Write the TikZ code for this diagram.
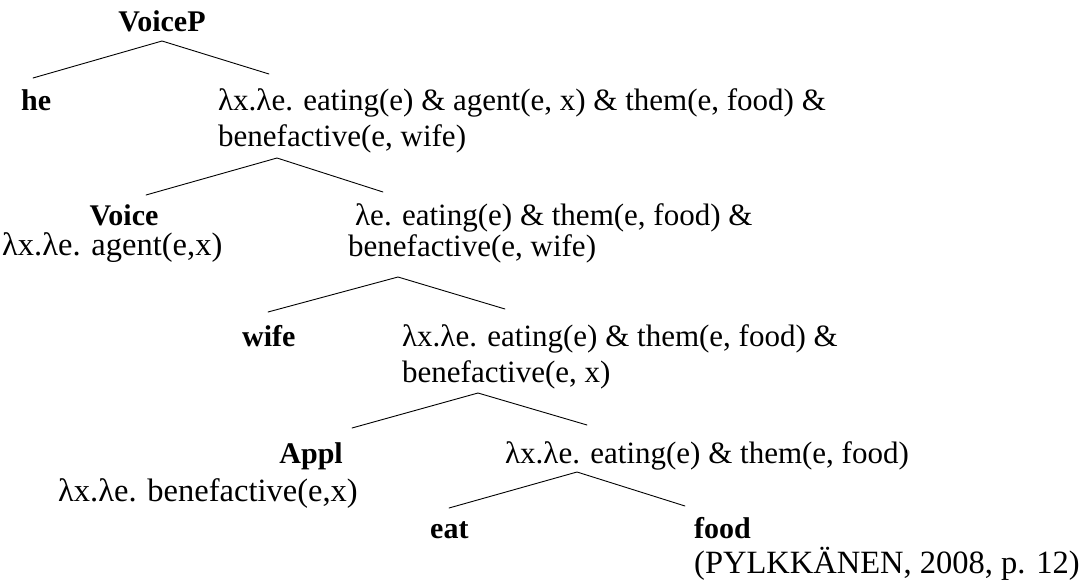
\documentclass[tikz,border=0pt]{standalone}
\usepackage{fontspec}
\setmainfont{Liberation Serif}
\begin{document}
\begin{tikzpicture}[x=1pt,y=-1pt,
  % multi-line nodes are anchored at the baseline of their last line
  txt/.style={inner sep=0pt, anchor=base west, align=left, font=\fontsize{31}{36}\selectfont},
  bigtxt/.style={txt, font=\fontsize{32.5}{36}\selectfont},
  lbl/.style={inner sep=0pt, anchor=base west, font=\fontsize{30}{36}\selectfont\bfseries},
  branch/.style={line width=0.9pt, line cap=round}]
\useasboundingbox (0,0) rectangle (1084,581);

% tree nodes
\node[lbl, anchor=base] (voiceP) at (162,31) {VoiceP};
\node[lbl] (he) at (21,110) {he};
\node[txt] (vbar) at (218,146) {λx.λe. eating(e) \& agent(e, x) \& them(e, food) \&\\benefactive(e, wife)};

\node[lbl, anchor=base] (voice) at (124,225) {Voice};
\node[bigtxt] (voicesem) at (2,255) {λx.λe. agent(e,x)};
\node[txt] (applP) at (348,256) {\hspace*{7pt}λe. eating(e) \& them(e, food) \&\\[-5pt]benefactive(e, wife)};

\node[lbl] (wife) at (242,346) {wife};
\node[txt] (applbar) at (402,382) {λx.λe. eating(e) \& them(e, food) \&\\benefactive(e, x)};

\node[lbl, anchor=base east] (appl) at (343,463) {Appl};
\node[bigtxt] (applsem) at (58,501) {λx.λe. benefactive(e,x)};
\node[txt] (vp) at (505,463) {λx.λe. eating(e) \& them(e, food)};

\node[lbl] (eat) at (430,538) {eat};
\node[lbl] (food) at (694,538) {food};
\node[bigtxt] (cite) at (694,573) {(PYLKKÄNEN, 2008, p. 12)};

% branch points
\coordinate (voiceP-top) at (162,41);
\coordinate (he-top) at (33,78);
\coordinate (vbar-top) at (269,74);
\coordinate (vbar-bot) at (277,158);
\coordinate (voice-top) at (146,195);
\coordinate (applP-top) at (383,192);
\coordinate (applP-bot) at (398,277);
\coordinate (wife-top) at (268,312);
\coordinate (applbar-top) at (505,309);
\coordinate (applbar-bot) at (478,393);
\coordinate (appl-top) at (352,428);
\coordinate (vp-top) at (587,425);
\coordinate (vp-bot) at (577,472);
\coordinate (eat-top) at (449,508);
\coordinate (food-top) at (685,506);

% branches
\draw[branch] (he-top) -- (voiceP-top) -- (vbar-top);
\draw[branch] (voice-top) -- (vbar-bot) -- (applP-top);
\draw[branch] (wife-top) -- (applP-bot) -- (applbar-top);
\draw[branch] (appl-top) -- (applbar-bot) -- (vp-top);
\draw[branch] (eat-top) -- (vp-bot) -- (food-top);
\end{tikzpicture}
\end{document}
